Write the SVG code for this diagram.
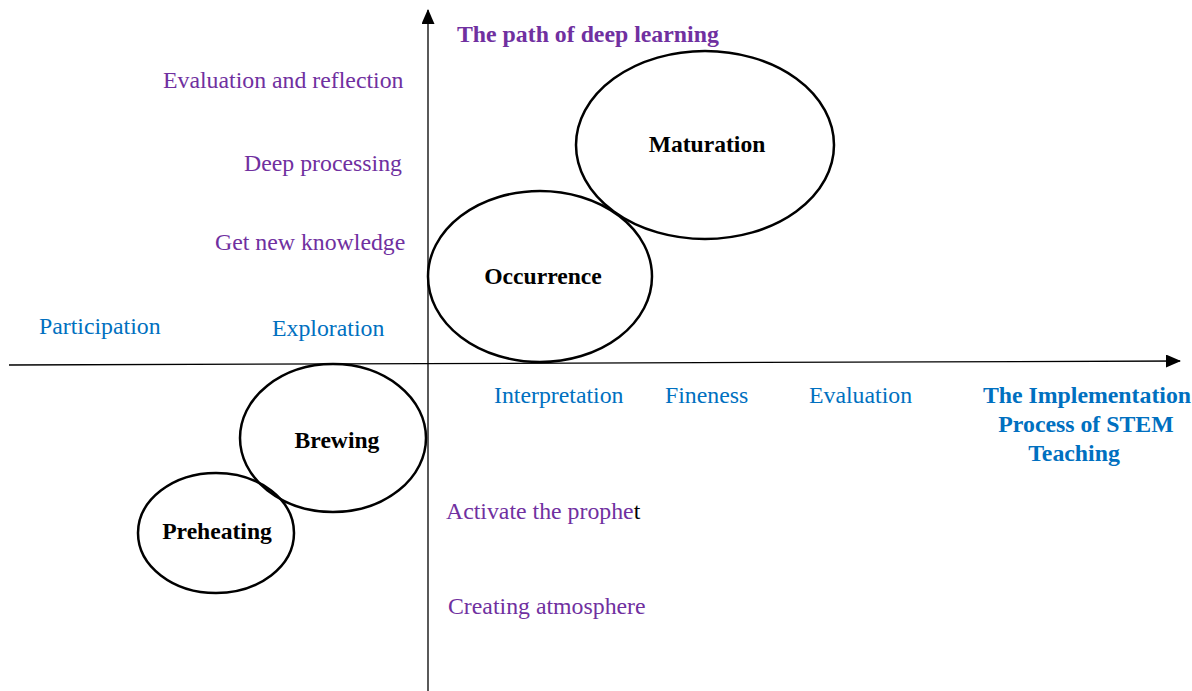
<svg xmlns="http://www.w3.org/2000/svg" width="1192" height="691" viewBox="0 0 1192 691">
  <style>
    .lbl { font-family: "Liberation Serif", "Times New Roman", serif; font-size: 23.8px; }
    .purple { fill: #7030A0; }
    .blue { fill: #0070C0; }
    .title { font-weight: bold; }
    .node ellipse { fill: none; stroke: #000; stroke-width: 2.5; }
    .node text { font-family: "Liberation Serif", "Times New Roman", serif; font-size: 23.6px; font-weight: bold; fill: #000; text-anchor: middle; }
    .axis { stroke: #000; stroke-width: 1.3; fill: none; }
  </style>
  <defs>
    <marker id="arrow" markerWidth="15" markerHeight="14" refX="14" refY="6.5" orient="auto" markerUnits="userSpaceOnUse">
      <path d="M0,0 L15,6.5 L0,13 z" fill="#000"/>
    </marker>
  </defs>
  <rect width="1192" height="691" fill="#fff"/>

  <!-- axes -->
  <g id="connectors">
    <line class="axis" x1="9" y1="365" x2="1180" y2="361" marker-end="url(#arrow)"/>
    <line class="axis" x1="428" y1="691" x2="428" y2="10" marker-end="url(#arrow)"/>
  </g>

  <!-- axis titles -->
  <text class="lbl purple title" x="457" y="42">The path of deep learning</text>
  <g class="lbl blue title" text-anchor="middle">
    <text x="1087" y="403">The Implementation</text>
    <text x="1086" y="432">Process of STEM</text>
    <text x="1074" y="461">Teaching</text>
  </g>

  <!-- vertical scale labels -->
  <text class="lbl purple" x="163" y="88">Evaluation and reflection</text>
  <text class="lbl purple" x="244" y="171">Deep processing</text>
  <text class="lbl purple" x="215" y="250">Get new knowledge</text>
  <text class="lbl purple" x="446" y="519">Activate the prophe<tspan fill="#000">t</tspan></text>
  <text class="lbl purple" x="448" y="614">Creating atmosphere</text>

  <!-- horizontal scale labels -->
  <text class="lbl blue" x="39" y="334">Participation</text>
  <text class="lbl blue" x="272" y="336">Exploration</text>
  <text class="lbl blue" x="494" y="403">Interpretation</text>
  <text class="lbl blue" x="665" y="403">Fineness</text>
  <text class="lbl blue" x="809" y="403">Evaluation</text>

  <!-- stages -->
  <g id="maturation" class="node">
    <ellipse cx="705" cy="145" rx="129" ry="94"/>
    <text x="707" y="152">Maturation</text>
  </g>
  <g id="occurrence" class="node">
    <ellipse cx="540" cy="276.5" rx="112" ry="85.5"/>
    <text x="543" y="284">Occurrence</text>
  </g>
  <g id="brewing" class="node">
    <ellipse cx="333" cy="438" rx="93" ry="74"/>
    <text x="337" y="448">Brewing</text>
  </g>
  <g id="preheating" class="node">
    <ellipse cx="216" cy="533" rx="78" ry="60"/>
    <text x="217" y="539">Preheating</text>
  </g>
</svg>
